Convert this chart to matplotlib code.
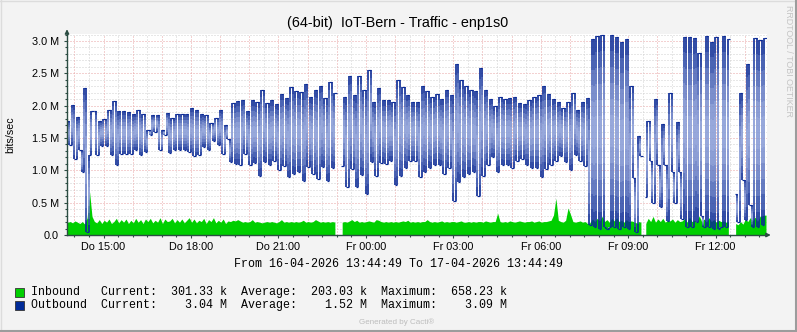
import numpy as np
import matplotlib
matplotlib.use("Agg")
import matplotlib.pyplot as plt
from matplotlib.collections import LineCollection
from matplotlib.patches import Rectangle
from matplotlib.lines import Line2D

nan = np.nan

# Outbound, Mbit/s, one value per 5 minutes (6 hours per block)
out_1 = [1.77, 1.39, 2.01, 1.17, 1.82, 1.32, 0.97, 2.27, 0.05, 1.24, 1.91, 1.91,
         1.24, 1.77, 1.38, 1.79, 1.38, 1.93, 1.23, 2.07, 1.09, 1.91, 1.25, 1.91,
         1.25, 1.90, 1.26, 1.87, 1.31, 1.93, 1.23, 1.87, 1.28, 1.62, 1.54, 1.85,
         1.59, 1.85, 1.31, 1.62, 1.54, 1.89, 1.27, 1.81, 1.31, 1.87, 1.31, 1.87,
         1.31, 1.87, 1.28, 1.96, 1.22, 1.94, 1.23, 1.87, 1.36, 1.85, 1.31, 1.73,
         1.46, 1.81, 1.39, 1.93, 1.25, 1.70, 1.48, 1.13, 2.04, 1.10, 2.07, 1.09]
out_2 = [2.08, 1.26, 1.91, 1.08, 2.08, 1.12, 2.06, 0.92, 2.25, 1.13, 2.04, 1.09,
         2.08, 1.15, 2.02, 1.00, 2.18, 1.06, 2.12, 0.89, 2.29, 0.95, 2.22, 0.97,
         2.21, 0.83, 2.33, 1.05, 2.13, 0.94, 2.24, 0.86, 2.31, 1.05, 2.12, 0.83,
         2.37, 1.03, 2.19, nan, nan, 1.06, 2.13, 0.74, 2.46, 1.02, 2.16, 0.74,
         2.46, 0.93, 2.24, 0.63, 2.55, 1.13, 2.06, 0.92, 2.27, 1.12, 2.08, 1.10,
         2.09, 1.14, 2.06, 0.78, 2.39, 0.91, 2.29, 1.04, 2.17, 1.14, 2.06, 1.15]
out_3 = [2.06, 0.89, 2.30, 0.97, 2.22, 1.04, 2.14, 1.08, 2.18, 1.08, 2.10, 0.95,
         2.24, 1.03, 2.16, 0.52, 2.65, 0.82, 2.39, 0.89, 2.30, 0.94, 2.25, 0.97,
         2.22, 0.61, 2.58, 0.92, 2.25, 1.08, 2.10, 1.20, 1.99, 0.97, 2.14, 1.08,
         2.11, 1.08, 2.12, 1.03, 2.14, 1.15, 2.04, 1.17, 2.03, 1.09, 2.09, 1.04,
         2.14, 1.04, 2.16, 0.89, 2.30, 1.02, 2.18, 1.09, 2.10, 1.14, 2.06, 1.22,
         1.97, 1.13, 2.05, 1.00, 2.19, 1.24, 1.94, 1.14, 2.06, 1.06, 2.12, 0.16]
out_4 = [3.03, 0.12, 3.08, 0.10, 3.09, 0.12, 0.10, 0.13, 3.09, 0.12, 3.06, 0.10,
         2.98, 0.12, 3.03, 0.10, 2.31, 0.88, 0.05, 1.53, 1.22, nan, 0.59, 1.77,
         1.14, 0.50, 2.10, 1.08, 0.43, 1.71, 1.08, 0.22, 2.20, 0.98, 0.50, 1.75,
         0.98, 0.25, 3.06, 0.12, 3.06, 0.12, 3.05, 0.20, 2.81, 0.30, 0.12, 3.08,
         0.12, 2.99, 0.10, 3.06, 0.10, 0.12, 3.07, 0.12, 3.03, nan, nan, 0.64,
         0.20, 2.19, 0.85, 0.23, 2.65, 0.46, 0.12, 3.04, 0.12, 3.02, 0.15, 3.04]

# Inbound, Mbit/s
in_1 = [0.19, 0.20, 0.18, 0.21, 0.19, 0.17, 0.20, 0.16, 0.26, 0.658, 0.28, 0.20,
        0.18, 0.23, 0.17, 0.22, 0.19, 0.24, 0.17, 0.20, 0.25, 0.18, 0.23, 0.19,
        0.24, 0.17, 0.22, 0.18, 0.25, 0.19, 0.23, 0.17, 0.24, 0.20, 0.25, 0.18,
        0.22, 0.19, 0.26, 0.17, 0.24, 0.20, 0.21, 0.25, 0.18, 0.23, 0.19, 0.24,
        0.18, 0.22, 0.26, 0.19, 0.24, 0.18, 0.22, 0.20, 0.25, 0.17, 0.23, 0.20,
        0.26, 0.18, 0.22, 0.19, 0.24, 0.17, 0.21, 0.20, 0.22, 0.21, 0.23, 0.21]
in_2 = [0.19, 0.20, 0.19, 0.20, 0.23, 0.19, 0.20, 0.19, 0.18, 0.19, 0.20, 0.19,
        0.20, 0.19, 0.18, 0.20, 0.23, 0.19, 0.20, 0.19, 0.20, 0.19, 0.20, 0.19,
        0.20, 0.22, 0.19, 0.20, 0.19, 0.20, 0.23, 0.21, 0.19, 0.20, 0.19, 0.20,
        0.19, 0.20, 0.19, nan, nan, 0.19, 0.20, 0.19, 0.21, 0.23, 0.20, 0.22,
        0.19, 0.20, 0.19, 0.20, 0.21, 0.20, 0.19, 0.23, 0.22, 0.20, 0.19, 0.20,
        0.19, 0.20, 0.19, 0.20, 0.19, 0.20, 0.21, 0.20, 0.22, 0.19, 0.20, 0.19]
in_3 = [0.20, 0.19, 0.20, 0.20, 0.23, 0.20, 0.19, 0.20, 0.19, 0.20, 0.21, 0.19,
        0.20, 0.19, 0.20, 0.20, 0.19, 0.20, 0.21, 0.19, 0.19, 0.20, 0.19, 0.20,
        0.19, 0.20, 0.20, 0.19, 0.21, 0.20, 0.19, 0.20, 0.20, 0.33, 0.20, 0.19,
        0.20, 0.19, 0.21, 0.20, 0.19, 0.20, 0.21, 0.20, 0.19, 0.20, 0.20, 0.21,
        0.19, 0.20, 0.21, 0.19, 0.20, 0.20, 0.21, 0.22, 0.30, 0.56, 0.22, 0.20,
        0.19, 0.22, 0.41, 0.31, 0.20, 0.19, 0.20, 0.21, 0.19, 0.20, 0.17, 0.18]
in_4 = [0.24, 0.20, 0.25, 0.21, 0.28, 0.20, 0.23, 0.19, 0.25, 0.21, 0.26, 0.20,
        0.22, 0.19, 0.23, 0.20, 0.21, 0.20, 0.18, 0.20, 0.19, nan, 0.17, 0.25,
        0.20, 0.28, 0.19, 0.24, 0.20, 0.25, 0.19, 0.22, 0.21, 0.24, 0.19, 0.23,
        0.20, 0.21, 0.25, 0.19, 0.27, 0.20, 0.22, 0.19, 0.29, 0.20, 0.24, 0.19,
        0.26, 0.20, 0.23, 0.19, 0.22, 0.20, 0.21, 0.19, 0.20, nan, nan, 0.17,
        0.15, 0.20, 0.16, 0.24, 0.20, 0.26, 0.21, 0.27, 0.20, 0.28, 0.29, 0.30]

tick_hours = [15, 18, 21, 24, 27, 30, 33, 36]
tick_labels = ["Do 15:00", "Do 18:00", "Do 21:00", "Fr 00:00",
               "Fr 03:00", "Fr 06:00", "Fr 09:00", "Fr 12:00"]
y_ticks = [0.0, 0.5, 1.0, 1.5, 2.0, 2.5, 3.0]
y_labels = ["0.0", "0.5 M", "1.0 M", "1.5 M", "2.0 M", "2.5 M", "3.0 M"]

title = "(64-bit)  IoT-Bern - Traffic - enp1s0"
legend_rows = [("Inbound   Current:  301.33 k  Average:  203.03 k  Maximum:  658.23 k", "#00CF00"),
               ("Outbound  Current:    3.04 M  Average:    1.52 M  Maximum:    3.09 M", "#002A97")]

start_hour = 13 + 44 / 60 + 49 / 3600

outbound = np.array(out_1 + out_2 + out_3 + out_4) * 1e6
inbound = np.array(in_1 + in_2 + in_3 + in_4) * 1e6
n = len(outbound)
t = np.arange(n + 1) / 12.0   # hours since start

AXIS = "#2C4D43"
DARK = np.array([0x0a, 0x2a, 0x95]) / 255.0
LIGHT = np.array([0x86, 0x99, 0xd5]) / 255.0

W, H = 797, 332
fig = plt.figure(figsize=(W / 100, H / 100), dpi=100)
fig.patch.set_facecolor("#F3F3F3")

ax = fig.add_axes([67 / W, 1 - 235 / H, 699.5 / W, 201.5 / H])
ax.set_facecolor("white")
ax.set_xlim(0, 24)
ax.set_ylim(0, 3.116e6)

# grid
for v in np.arange(0.1, 3.11, 0.1):
    major = abs(v * 2 - round(v * 2)) < 1e-6
    ax.axhline(v * 1e6, color="#e9a4a4" if major else "#d0d0d0", lw=0.72,
               ls=(0, (1, 2)), zorder=0)
for h in range(14, 38):
    if 0 < h - start_hour < 24:
        ax.axvline(h - start_hour, color="#e9a4a4", lw=0.72, ls=(0, (1, 2)), zorder=0)
    if 0 < h + 0.5 - start_hour < 24:
        ax.axvline(h + 0.5 - start_hour, color="#d0d0d0", lw=0.72, ls=(0, (1, 2)), zorder=0)

# inbound area, drawn through the sample midpoints so the top looks spiky
tm = (t[:-1] + t[1:]) / 2
ax.fill_between(np.concatenate([[0], tm, [24]]),
                np.concatenate([[inbound[0]], inbound, [inbound[-1]]]),
                color="#00CF00", lw=0, zorder=2)

# outbound line: horizontal steps dark, vertical jumps with a lighter middle
ok = ~np.isnan(outbound)
ax.hlines(outbound[ok], t[:-1][ok], t[1:][ok], color=DARK, lw=0.85, zorder=4)
segs, cols = [], []
for i in range(n - 1):
    a, b = outbound[i], outbound[i + 1]
    if np.isnan(a) or np.isnan(b):
        continue
    ys = np.linspace(a, b, 13)
    for k in range(12):
        f = abs((k + 0.5) / 12 - 0.5) * 2
        f = min(1.0, f ** 1.6 * 1.2)
        segs.append([(t[i + 1], ys[k]), (t[i + 1], ys[k + 1])])
        cols.append(tuple(LIGHT + (DARK - LIGHT) * f))
ax.add_collection(LineCollection(segs, colors=cols, linewidths=1.2, zorder=3))

# axes
for s in ["top", "right"]:
    ax.spines[s].set_visible(False)
for s in ["left", "bottom"]:
    ax.spines[s].set_color(AXIS)
    ax.spines[s].set_linewidth(1.0)
    ax.spines[s].set_zorder(5)

ax.set_yticks([v * 1e6 for v in y_ticks])
ax.set_yticklabels(y_labels)
ax.set_yticks(np.arange(0, 3.11, 0.1) * 1e6, minor=True)
ax.set_xticks([h - start_hour for h in tick_hours])
ax.set_xticklabels(tick_labels)
ax.set_xticks([h / 2 - start_hour for h in range(28, 76) if 0 <= h / 2 - start_hour <= 24], minor=True)
ax.tick_params(axis="both", which="both", color=AXIS, width=0.8, labelcolor="black")
ax.tick_params(axis="y", which="major", length=2.2, pad=3.6)
ax.tick_params(axis="y", which="minor", length=1.4)
ax.tick_params(axis="x", which="major", length=2.2, pad=3.0)
ax.tick_params(axis="x", which="minor", length=1.4)
for lab in ax.get_xticklabels() + ax.get_yticklabels():
    lab.set_fontfamily("Liberation Sans")
    lab.set_fontsize(7.8)

ax.annotate("", xy=(0, 1.035), xytext=(0, 0.99), xycoords="axes fraction",
            arrowprops=dict(arrowstyle="-|>", color=AXIS, lw=1.0, mutation_scale=6))
ax.annotate("", xy=(1.01, 0), xytext=(0.995, 0), xycoords="axes fraction",
            arrowprops=dict(arrowstyle="-|>", color=AXIS, lw=1.0, mutation_scale=6))

# texts
fig.text(398 / W, 1 - 27 / H, title, ha="center", va="baseline",
         fontsize=10.4, family="Liberation Sans")
fig.text(10.5 / W, 1 - 135 / H, "bits/sec", rotation=90, ha="center", va="center",
         fontsize=7.7, family="Liberation Sans")
fig.text(398.5 / W, 1 - 267 / H, "From 16-04-2026 13:44:49 To 17-04-2026 13:44:49",
         ha="center", va="baseline", fontsize=8.4, family="Liberation Mono")
for r, (txt, col) in enumerate(legend_rows):
    yb = 295 + 13 * r
    fig.patches.append(Rectangle((15 / W, 1 - (yb + 1.5) / H), 8.5 / W, 9 / H,
                                 transform=fig.transFigure, facecolor=col,
                                 edgecolor="#333333", lw=0.6))
    fig.text(30.7 / W, 1 - yb / H, txt, ha="left", va="baseline",
             fontsize=8.4, family="Liberation Mono")
fig.text(397 / W, 1 - 324 / H, "Generated by Cacti\u00ae", ha="center", va="baseline",
         fontsize=5.8, color="#bdbdbd", family="Liberation Sans")
fig.text(788 / W, 1 - 5 / H, "RRDTOOL / TOBI OETIKER", rotation=270, ha="center", va="top",
         fontsize=6.4, color="#c4c4c4", family="Liberation Sans")

# frame
fig.add_artist(Line2D([0, 1], [1 - 0.5 / H, 1 - 0.5 / H], color="#dcdcdc", lw=1))
fig.add_artist(Line2D([0.5 / W, 0.5 / W], [0, 1], color="#dcdcdc", lw=1))
fig.add_artist(Line2D([0, 1], [1.0 / H, 1.0 / H], color="#9c9c9c", lw=1.5))
fig.add_artist(Line2D([1 - 1.0 / W, 1 - 1.0 / W], [0, 1], color="#9c9c9c", lw=1.5))

fig.savefig("out.png", dpi=100, facecolor=fig.get_facecolor())
